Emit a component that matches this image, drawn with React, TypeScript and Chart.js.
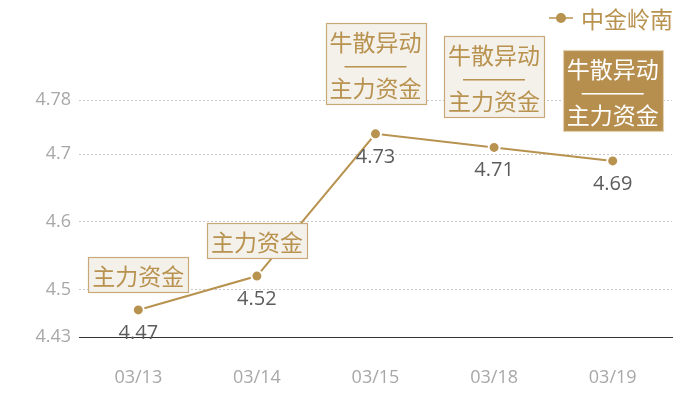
import React, { useEffect, useRef } from 'react';
import { Chart, registerables } from 'chart.js';

Chart.register(...registerables);

const categories = ['03/13', '03/14', '03/15', '03/18', '03/19'];
const prices = [4.47, 4.52, 4.73, 4.71, 4.69];
const yTicks = [4.43, 4.5, 4.6, 4.7, 4.78];
const tags = [
  ['主力资金'],
  ['主力资金'],
  ['牛散异动', '——', '主力资金'],
  ['牛散异动', '——', '主力资金'],
  ['牛散异动', '——', '主力资金'],
];
const highlighted = [false, false, false, false, true];
const seriesName = '中金岭南';

const GOLD = '#b8924f';
const FONT = '"Open Sans", "Noto Sans CJK SC", sans-serif';
const CJK = '"Noto Sans CJK SC", sans-serif';

const tagPlugin = {
  id: 'tags',
  afterDatasetsDraw(chart: Chart) {
    const { ctx } = chart;
    const meta = chart.getDatasetMeta(0);
    ctx.save();
    meta.data.forEach((pt: any, i: number) => {
      const { x, y } = pt.getProps(['x', 'y'], true);

      // value under the point
      ctx.font = `20px ${FONT}`;
      ctx.fillStyle = '#5c5c5c';
      ctx.textAlign = 'center';
      ctx.textBaseline = 'middle';
      ctx.fillText(String(prices[i]), x, y + 23);

      // tag box above the point
      const lines = tags[i];
      const lineH = 23;
      ctx.font = `23px ${CJK}`;
      const w = Math.max(...lines.map(l => ctx.measureText(l).width)) + 8;
      const h = lines.length * lineH + 12;
      const bottom = y - (lines.length > 1 ? 30 : 18);
      const left = Math.round(x - w / 2) + 0.5;
      const top = Math.round(bottom - h) + 0.5;
      const hl = highlighted[i];
      ctx.fillStyle = hl ? '#b68e4e' : '#f4f0ea';
      ctx.fillRect(left, top, w, h);
      ctx.strokeStyle = hl ? '#e3d2b2' : '#c9a977';
      ctx.lineWidth = 1.2;
      ctx.strokeRect(left, top, w, h);
      ctx.fillStyle = hl ? '#ffffff' : GOLD;
      lines.forEach((l, k) => {
        const ty = top + 6 + lineH * k + lineH / 2 + 1;
        if (l.startsWith('—')) {
          // em dashes drawn wide, as in the reference
          ctx.save();
          ctx.translate(x, ty - 1);
          ctx.scale(1.7, 1);
          ctx.fillText(l, 0, 0);
          ctx.restore();
        } else {
          ctx.fillText(l, x, ty);
        }
      });
    });
    ctx.restore();
  },
  afterDraw(chart: Chart) {
    const { ctx } = chart;
    ctx.save();
    const cy = 18;
    ctx.strokeStyle = GOLD;
    ctx.lineWidth = 1.5;
    ctx.beginPath();
    ctx.moveTo(549, cy);
    ctx.lineTo(573, cy);
    ctx.stroke();
    ctx.fillStyle = GOLD;
    ctx.beginPath();
    ctx.arc(561, cy, 5, 0, Math.PI * 2);
    ctx.fill();
    ctx.font = `23px ${CJK}`;
    ctx.textAlign = 'left';
    ctx.textBaseline = 'middle';
    ctx.fillText(seriesName, 581, cy + 1);
    ctx.restore();
  },
};

const App: React.FC = () => {
  const canvasRef = useRef<HTMLCanvasElement | null>(null);

  useEffect(() => {
    const ctx = canvasRef.current?.getContext('2d');
    if (!ctx) return;
    const chart = new Chart(ctx, {
      type: 'line',
      data: {
        labels: categories,
        datasets: [
          {
            label: seriesName,
            data: prices,
            borderColor: GOLD,
            borderWidth: 2,
            backgroundColor: GOLD,
            pointBackgroundColor: GOLD,
            pointBorderColor: '#ffffff',
            pointBorderWidth: 2,
            pointRadius: 5.5,
            tension: 0,
            clip: false as any,
          },
        ],
      },
      options: {
        responsive: true,
        maintainAspectRatio: false,
        animation: false,
        layout: { padding: { top: 100, right: 28, left: 0, bottom: 0 } },
        plugins: {
          legend: { display: false },
          tooltip: { enabled: false },
        },
        scales: {
          x: {
            offset: true,
            grid: { display: false },
            border: { display: true, color: '#333333', width: 1 },
            ticks: { color: '#a8a8a8', font: { size: 18, family: FONT }, padding: 22 },
            afterFit: (scale: any) => {
              scale.height = 63;
            },
          },
          y: {
            min: 4.43,
            max: 4.78,
            afterBuildTicks: (scale: any) => {
              scale.ticks = yTicks.map(v => ({ value: v }));
            },
            afterFit: (scale: any) => {
              scale.width = 79;
            },
            border: { display: false, dash: [2, 2] },
            grid: {
              drawTicks: false,
              color: (c: any) => (c.tick && c.tick.value === 4.43 ? 'rgba(0,0,0,0)' : '#c8c8c8'),
            },
            ticks: {
              color: '#a8a8a8',
              font: { size: 18, family: FONT },
              padding: 8,
              callback: (v: any) => String(v),
            },
          },
        },
      },
      plugins: [tagPlugin],
    });
    return () => chart.destroy();
  }, []);

  return (
    <div style={{ position: 'absolute', left: 0, top: 0, width: 700, height: 400, background: '#fff' }}>
      <canvas ref={canvasRef}></canvas>
    </div>
  );
};

export default App;
